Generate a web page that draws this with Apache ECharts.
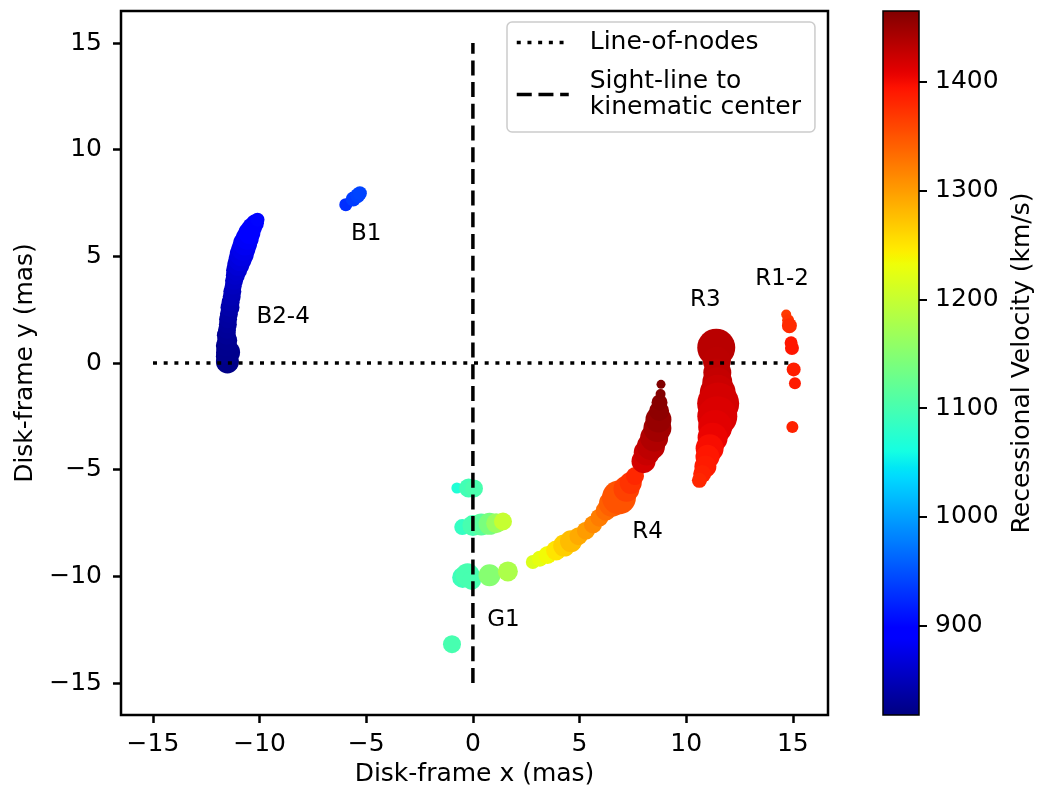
<!DOCTYPE html>
<html>
<head>
<meta charset="utf-8">
<script src="https://cdn.jsdelivr.net/npm/echarts@6/dist/echarts.min.js"></script>
<style>
html,body{margin:0;padding:0;background:#fff;}
#chart{width:1037px;height:792px;}
</style>
</head>
<body>
<div id="chart"></div>
<script>
// ---------------- data ----------------
// each maser spot: [x (mas), y (mas), velocity (km/s), marker area]
const B24 = [
  [-11.51, 0.05, 822, 529], [-11.56, 0.30, 823, 441], [-11.48, 0.50, 825, 576],
  [-11.56, 0.80, 826, 441], [-11.52, 1.05, 828, 400], [-11.56, 1.30, 830, 361],
  [-11.53, 1.55, 832, 324], [-11.49, 1.80, 834, 324], [-11.48, 2.05, 836, 324],
  [-11.44, 2.30, 838, 324], [-11.39, 2.60, 841, 361], [-11.36, 2.85, 844, 324],
  [-11.31, 3.10, 847, 324], [-11.28, 3.35, 850, 324], [-11.24, 3.60, 853, 289],
  [-11.20, 3.85, 856, 324], [-11.14, 4.10, 859, 361], [-11.08, 4.35, 862, 441],
  [-11.00, 4.60, 866, 484], [-10.92, 4.85, 870, 529], [-10.84, 5.10, 874, 576],
  [-10.76, 5.35, 878, 576], [-10.68, 5.60, 882, 576], [-10.58, 5.85, 886, 529],
  [-10.48, 6.10, 890, 484], [-10.36, 6.35, 894, 400], [-10.22, 6.55, 898, 324],
  [-10.10, 6.72, 901, 196]
];
const B1 = [
  [-5.96, 7.42, 928, 169], [-5.61, 7.69, 936, 225], [-5.40, 7.85, 940, 225], [-5.30, 7.96, 942, 196]
];
const G1 = [
  [-0.75, -5.86, 1070, 121], [-0.20, -5.86, 1096, 361], [0.05, -5.88, 1102, 324],
  [-0.50, -7.69, 1085, 256], [0.00, -7.62, 1100, 441], [0.39, -7.57, 1115, 484],
  [0.78, -7.54, 1140, 484], [1.09, -7.51, 1165, 400], [1.41, -7.43, 1200, 324],
  [-0.48, -10.05, 1092, 441], [-0.25, -9.95, 1100, 576], [-0.06, -10.19, 1100, 361],
  [0.78, -9.95, 1150, 484], [1.64, -9.77, 1180, 400],
  [-0.98, -13.18, 1100, 324]
];
const R4 = [
  [2.81, -9.33, 1217, 196], [3.14, -9.17, 1225, 256], [3.50, -9.00, 1235, 324],
  [3.90, -8.79, 1250, 400], [4.28, -8.56, 1265, 484], [4.60, -8.36, 1278, 484],
  [4.95, -8.12, 1290, 324], [5.30, -7.86, 1300, 324], [5.63, -7.57, 1312, 324],
  [5.93, -7.25, 1322, 324], [6.23, -6.92, 1332, 400], [6.52, -6.60, 1342, 676],
  [6.85, -6.30, 1350, 1156], [7.20, -5.90, 1362, 676], [7.40, -5.62, 1372, 484],
  [7.60, -5.30, 1380, 324],
  [8.00, -4.60, 1418, 576], [8.15, -4.20, 1424, 676], [8.35, -3.90, 1430, 784],
  [8.50, -3.50, 1438, 784], [8.65, -3.05, 1446, 784], [8.70, -2.65, 1452, 676],
  [8.73, -2.25, 1457, 400], [8.75, -1.85, 1460, 256], [8.80, -1.45, 1463, 100],
  [8.82, -1.00, 1465, 81]
];
const R3 = [
  [11.41, 0.72, 1433, 1444], [11.44, 0.10, 1432, 784], [11.46, -0.45, 1430, 784],
  [11.46, -0.90, 1427, 900], [11.48, -1.40, 1423, 1296], [11.50, -1.90, 1418, 1764],
  [11.46, -2.50, 1414, 1600], [11.36, -3.00, 1410, 1156], [11.24, -3.50, 1405, 900],
  [11.10, -4.00, 1398, 784], [11.00, -4.40, 1392, 576], [10.90, -4.85, 1388, 484],
  [10.75, -5.20, 1384, 324], [10.62, -5.50, 1380, 225]
];
const R12 = [
  [14.69, 2.27, 1368, 100], [14.78, 2.00, 1372, 144], [14.84, 1.75, 1378, 225],
  [14.92, 0.95, 1392, 169], [14.96, 0.70, 1392, 196], [15.04, -0.30, 1386, 196],
  [15.10, -0.95, 1388, 144], [14.98, -3.00, 1384, 144]
];
const clusterNames = ['B2-4', 'B1', 'G1', 'R4', 'R3', 'R1-2'];
const clusterX = [-8.9, -5.0, 1.43, 8.19, 10.9, 14.5];
const clusterY = [2.15, 6.05, -12.06, -7.9, 2.94, 3.95];

const lineOfNodesX = [-15, 15];
const lineOfNodesY = [0, 0];
const sightLineX = [0, 0];
const sightLineY = [-15, 15];

const xTicks = [-15, -10, -5, 0, 5, 10, 15];
const yTicks = [-15, -10, -5, 0, 5, 10, 15];
const cbTicks = [900, 1000, 1100, 1200, 1300, 1400];
const vMin = 818, vMax = 1465;

// ---------------- jet colormap (matplotlib) ----------------
function interp(t, pts) {
  for (let i = 1; i < pts.length; i++) {
    if (t <= pts[i][0]) {
      const a = pts[i - 1], b = pts[i];
      return a[1] + (b[1] - a[1]) * (t - a[0]) / (b[0] - a[0]);
    }
  }
  return pts[pts.length - 1][1];
}
function jet(t) {
  t = Math.max(0, Math.min(1, t));
  const r = interp(t, [[0, 0], [0.35, 0], [0.66, 1], [0.89, 1], [1, 0.5]]);
  const g = interp(t, [[0, 0], [0.125, 0], [0.375, 1], [0.64, 1], [0.91, 0], [1, 0]]);
  const b = interp(t, [[0, 0.5], [0.11, 1], [0.34, 1], [0.65, 0], [1, 0]]);
  return 'rgb(' + Math.round(r * 255) + ',' + Math.round(g * 255) + ',' + Math.round(b * 255) + ')';
}
const velColor = v => jet((v - vMin) / (vMax - vMin));
const fmtTick = v => (v < 0 ? '\u2212' + Math.abs(v) : String(v));

const FONT = 'DejaVu Sans';
const chart = echarts.init(document.getElementById('chart'), null, {renderer: 'canvas'});

const scatterSeries = [B24, B1, G1, R4, R3, R12].map(d => ({
  type: 'scatter',
  xAxisIndex: 0, yAxisIndex: 0,
  data: d,
  symbol: 'circle',
  symbolSize: val => Math.sqrt(val[3]),
  itemStyle: {color: p => velColor(p.value[2]), opacity: 1},
  emphasis: {disabled: true},
  silent: true,
  z: 2
}));

const gradStops = [];
for (let i = 0; i <= 128; i++) {
  gradStops.push({offset: i / 128, color: jet(i / 128)});
}

const option = {
  animation: false,
  backgroundColor: '#ffffff',
  textStyle: {fontFamily: FONT},
  grid: [
    {left: 121, top: 11, width: 707, height: 704, show: true, borderColor: '#000', borderWidth: 2.5, backgroundColor: 'transparent'},
    {left: 883, top: 11, width: 36, height: 704, show: false}
  ],
  legend: {
    data: ['Line-of-nodes', 'Sight-line to\nkinematic center'],
    orient: 'vertical',
    left: 507, top: 22,
    padding: [8, 14, 12, 8],
    itemGap: 14,
    itemWidth: 52, itemHeight: 14,
    backgroundColor: '#ffffff',
    borderColor: '#cccccc', borderWidth: 1.5, borderRadius: 5,
    selectedMode: false,
    itemStyle: {color: 'rgba(0,0,0,0)', opacity: 0, borderWidth: 0},
    lineStyle: {width: 3.5, color: '#000', type: 'inherit', cap: 'butt'},
    formatter: name => name.split('\n').map(s => '{t|' + s + '}').join('\n'),
    textStyle: {
      fontFamily: FONT, fontSize: 25, color: '#000',
      rich: {t: {fontFamily: FONT, fontSize: 25, color: '#000', lineHeight: 26, padding: [0, 0, 0, 16]}}
    }
  },
  xAxis: [
    {
      type: 'value', gridIndex: 0, min: -16.5, max: 16.65,
      axisLine: {show: false, onZero: false},
      axisTick: {show: true, customValues: xTicks, length: 8, lineStyle: {color: '#000', width: 2.5}},
      axisLabel: {customValues: xTicks, formatter: fmtTick, margin: 17, fontSize: 25, color: '#000', fontFamily: FONT},
      splitLine: {show: false},
      name: 'Disk-frame x (mas)', nameLocation: 'middle', nameGap: 47,
      nameTextStyle: {fontSize: 25, color: '#000', fontFamily: FONT}
    },
    {type: 'value', gridIndex: 1, min: 0, max: 1, show: false}
  ],
  yAxis: [
    {
      type: 'value', gridIndex: 0, min: -16.5, max: 16.5,
      axisLine: {show: false, onZero: false},
      axisTick: {show: true, customValues: yTicks, length: 8, lineStyle: {color: '#000', width: 2.5}},
      axisLabel: {customValues: yTicks, formatter: fmtTick, margin: 19, fontSize: 25, color: '#000', fontFamily: FONT},
      splitLine: {show: false},
      name: 'Disk-frame y (mas)', nameLocation: 'middle', nameGap: 80, nameRotate: 90,
      nameTextStyle: {fontSize: 25, color: '#000', fontFamily: FONT}
    },
    {
      type: 'value', gridIndex: 1, position: 'right', min: vMin, max: vMax,
      axisLine: {show: false, onZero: false},
      axisTick: {show: true, customValues: cbTicks, length: 8, lineStyle: {color: '#000', width: 2}},
      axisLabel: {customValues: cbTicks, formatter: v => String(v), margin: 16, fontSize: 25, color: '#000', fontFamily: FONT},
      splitLine: {show: false},
      name: 'Recessional Velocity (km/s)', nameLocation: 'middle', nameGap: 91, nameRotate: 90,
      nameTextStyle: {fontSize: 25, color: '#000', fontFamily: FONT}
    }
  ],
  series: [
    ...scatterSeries,
    {
      name: 'Line-of-nodes', type: 'line', xAxisIndex: 0, yAxisIndex: 0,
      data: lineOfNodesX.map((x, i) => [x, lineOfNodesY[i]]),
      symbol: 'none', silent: true, z: 4,
      lineStyle: {color: '#000', width: 3.5, type: [4, 6.7], cap: 'butt'},
      itemStyle: {color: '#000'}
    },
    {
      name: 'Sight-line to\nkinematic center', type: 'line', xAxisIndex: 0, yAxisIndex: 0,
      data: sightLineX.map((x, i) => [x, sightLineY[i]]),
      symbol: 'none', silent: true, z: 4,
      lineStyle: {color: '#000', width: 3.5, type: [15, 6.7], cap: 'butt'},
      itemStyle: {color: '#000'}
    },
    {
      type: 'scatter', xAxisIndex: 0, yAxisIndex: 0, silent: true, z: 5,
      symbolSize: 0,
      itemStyle: {opacity: 1},
      data: clusterNames.map((n, i) => ({name: n, value: [clusterX[i], clusterY[i]]})),
      label: {show: true, position: 'inside', formatter: p => p.name, fontFamily: FONT, fontSize: 23, color: '#000', opacity: 1}
    },
    {
      type: 'custom', xAxisIndex: 1, yAxisIndex: 1, silent: true, clip: false,
      data: [[0, vMin, 1, vMax]],
      renderItem: (params, api) => {
        const p0 = api.coord([api.value(0), api.value(1)]);
        const p1 = api.coord([api.value(2), api.value(3)]);
        return {
          type: 'rect',
          shape: {x: p0[0], y: p1[1], width: p1[0] - p0[0], height: p0[1] - p1[1]},
          style: {
            fill: new echarts.graphic.LinearGradient(0, 1, 0, 0, gradStops),
            stroke: '#000', lineWidth: 1.5
          }
        };
      }
    }
  ]
};
chart.setOption(option);
</script>
</body>
</html>
